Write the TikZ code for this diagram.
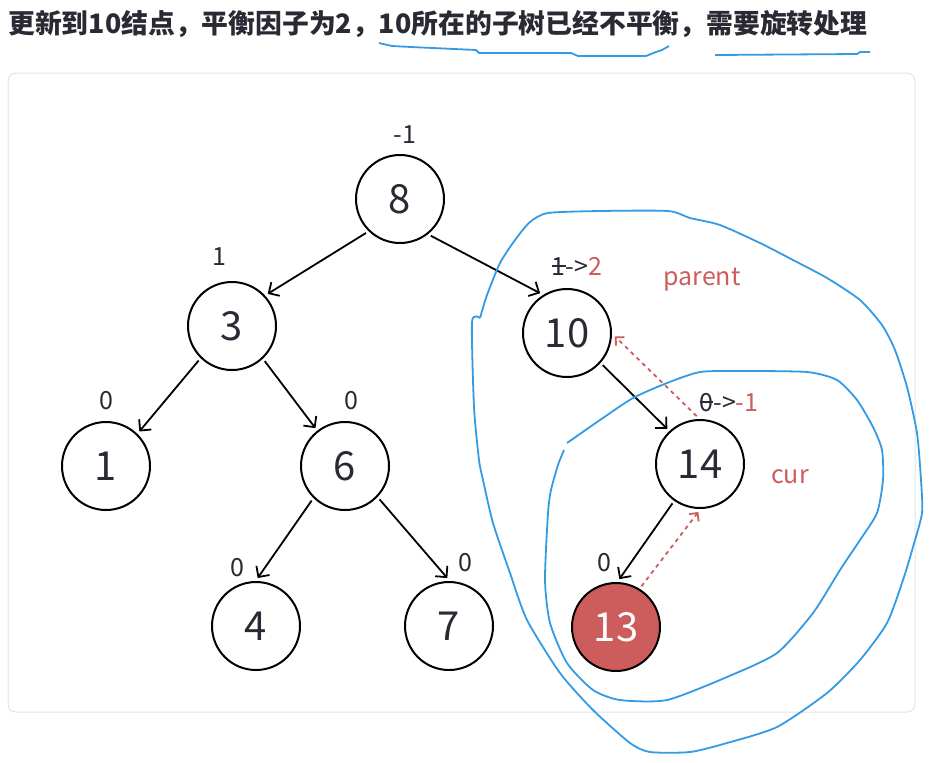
\documentclass[tikz,border=0pt]{standalone}
\usepackage{fontspec}
\setmainfont{Noto Sans CJK SC}
\usetikzlibrary{arrows.meta}
\definecolor{nodered}{RGB}{205,92,92}
\definecolor{inkblue}{RGB}{52,154,228}
\definecolor{darktext}{RGB}{42,42,52}
\definecolor{panelgray}{RGB}{226,226,226}
\newcommand{\struck}[1]{\ooalign{#1\cr\hidewidth\rule[0.32em]{0.55em}{0.07em}\hidewidth\cr}}

\begin{document}
\begin{tikzpicture}[x=0.5pt, y=-0.5pt,
  avl/.style={circle, draw, line width=1pt, minimum size=44pt, inner sep=0pt, outer sep=2pt, text=darktext, font=\fontsize{20}{24}\selectfont},
  bf/.style={text=darktext, font=\fontsize{12.5}{15}\selectfont},
  edge/.style={-{Straight Barb[length=4pt,width=8pt]}, line width=0.9pt},
  back/.style={-{Straight Barb[length=3pt,width=6pt]}, nodered, line width=0.9pt, dash pattern=on 2pt off 2pt},
  pen/.style={inkblue, line width=0.9pt, line join=round},
  loop/.style={pen, smooth, tension=0.4}]
  \useasboundingbox (0,0) rectangle (931,762);
  \node[anchor=west, inner sep=0pt, text=darktext, font=\fontsize{13.4}{16}\selectfont\bfseries] (title) at (8,24) {更新到10结点，平衡因子为2，10所在的子树已经不平衡，需要旋转处理};
  \draw[panelgray, line width=0.5pt, rounded corners=4pt] (8,73) rectangle (915,712);
  % tree
  \node[avl] (n8) at (400,199) {8};
  \node[avl] (n3) at (232,326) {3};
  \node[avl] (n10) at (567,333) {10};
  \node[avl] (n1) at (106,466) {1};
  \node[avl] (n6) at (345,466) {6};
  \node[avl] (n14) at (700,464) {14};
  \node[avl] (n4) at (256,626) {4};
  \node[avl] (n7) at (449,626) {7};
  \node[avl, fill=nodered, text=white] (n13) at (616,627) {13};
  \draw[edge] (n8.225) -- (n3.42);
  \draw[edge] (n8.310) -- (n10.124);
  \draw[edge] (n3.226) -- (n1.46);
  \draw[edge] (n3.313) -- (n6.128);
  \draw[edge] (n6.226) -- (n4.88);
  \draw[edge] (n6.316) -- (n7.92);
  \draw[edge] (n10.318) -- (n14.133);
  \draw[edge] (n14.235) -- (n13.86);
  \draw[back] (n14.94) -- (n10.356);
  \draw[back] (n13.58) -- (n14.268);
  % balance factors
  \node[bf] (b8) at (405,135) {-1};
  \node[bf] (b3) at (219,257) {1};
  \node[bf] (b1) at (106,401) {0};
  \node[bf] (b6) at (351,401) {0};
  \node[bf] (b4) at (237,568) {0};
  \node[bf] (b7) at (465,563) {0};
  \node[bf] (b13) at (604,563) {0};
  \node[bf] (b10) at (577,266) {\struck{1}->\textcolor{nodered}{2}};
  \node[bf] (b14) at (729,402) {\struck{0}->\textcolor{nodered}{-1}};
  \node[bf, text=nodered] (parent) at (702,280) {parent};
  \node[bf, text=nodered] (cur) at (790,477) {cur};
  % pen marks
  \draw[pen] (379,43) -- (392,46) -- (411,47) -- (476,50) -- (479,53) -- (571,53) -- (578,56) -- (646,56) -- (656,52) -- (662,50) -- (669,46);
  \draw[pen] (715,55) -- (857,54) -- (860,52) -- (870,52);
  \draw[loop] plot coordinates {(480,318) (487,295) (500,263) (515,240) (530,222) (548,213) (600,211) (668,211) (690,218) (720,225) (760,243) (793,260) (827,278) (860,300) (882,325) (895,350) (907,387) (917,433) (921,480) (922,513) (913,547) (903,580) (887,623) (860,660) (827,693) (777,727) (727,743) (690,752) (650,752) (630,743) (593,710) (560,673) (527,620) (510,573) (493,523) (483,480) (479,460) (474,407) (472,322) (480,318)};
  \draw[loop] plot coordinates {(567,443) (600,420) (633,398) (667,383) (700,372) (740,371) (807,372) (837,380) (857,400) (873,427) (882,450) (883,480) (877,513) (860,540) (840,570) (813,613) (777,653) (727,677) (667,700) (620,700) (593,690) (567,663) (550,623) (545,580) (548,513) (551,490) (558,465) (564,450)};
\end{tikzpicture}
\end{document}
